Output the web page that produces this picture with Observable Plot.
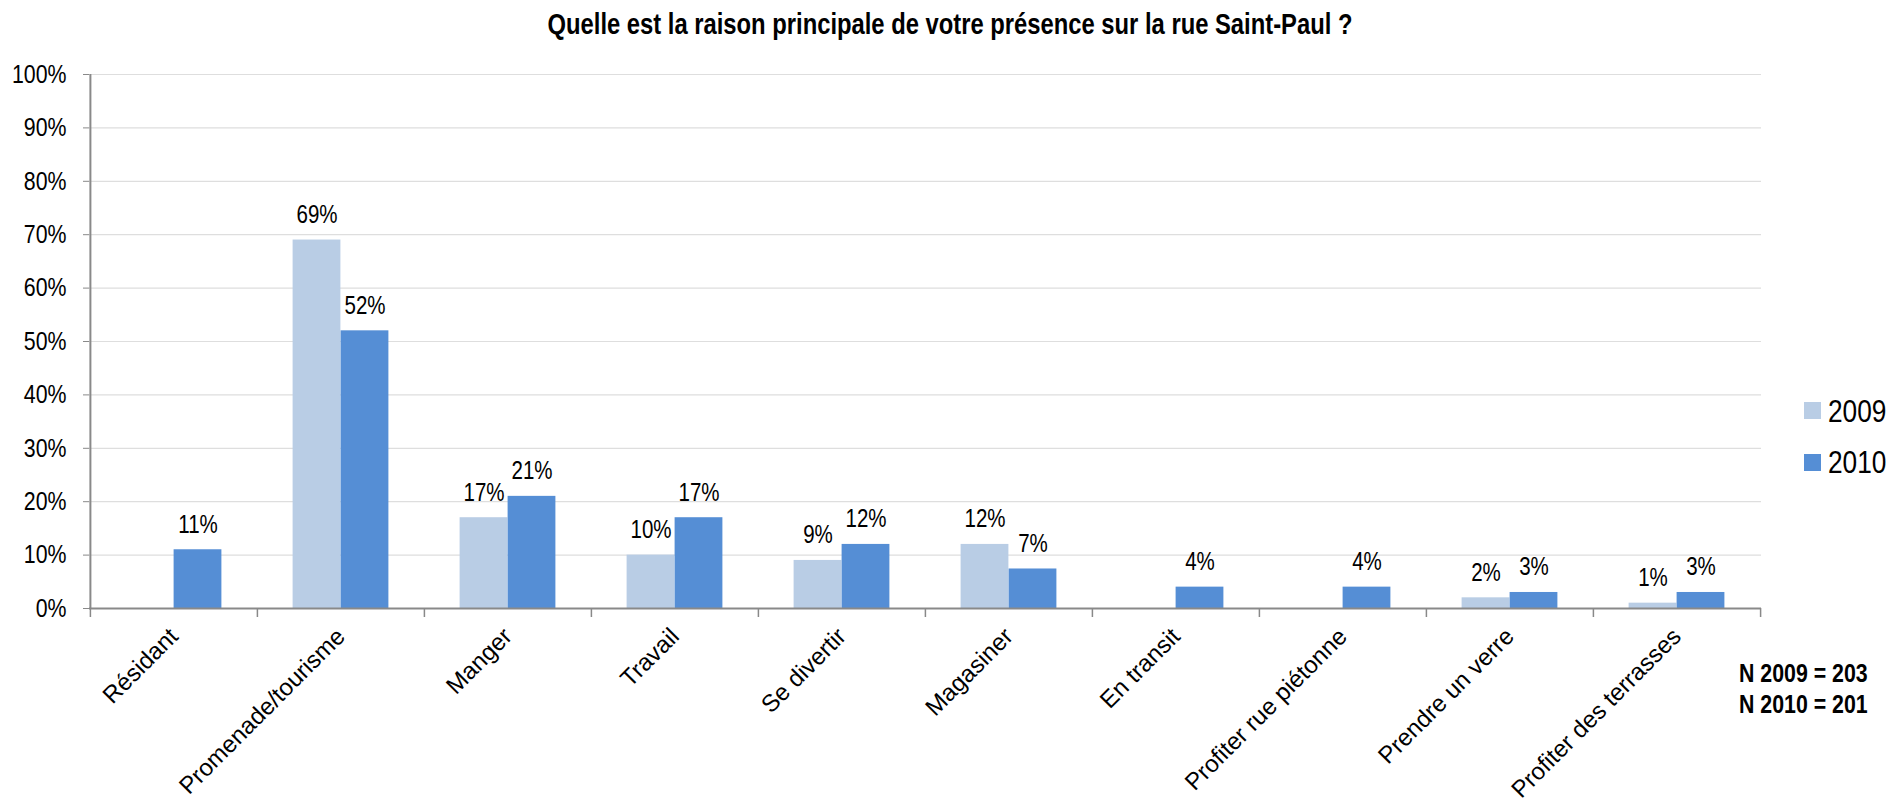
<!DOCTYPE html>
<html>
<head>
<meta charset="utf-8">
<script src="https://cdn.jsdelivr.net/npm/d3@7"></script>
<script src="https://cdn.jsdelivr.net/npm/@observablehq/plot@0.6"></script>
<style>
  body { margin: 0; background: #fff; }
  #wrap { position: relative; width: 1890px; height: 804px; overflow: hidden; background: #fff;
          font-family: "Liberation Sans", Arial, sans-serif; color: #000; }
  #title { position: absolute; left: 0; width: 1900px; top: 10px; text-align: center;
           font-weight: bold; font-size: 29px; line-height: 29px; white-space: nowrap;
           transform: scaleX(0.82); transform-origin: 950px 0; }
  #chart { position: absolute; left: 0; top: 0; }
  .leg { position: absolute; font-size: 32px; line-height: 32px; white-space: nowrap;
         transform: scaleX(0.82); transform-origin: 0 0; }
  .sw { position: absolute; width: 17px; height: 17px; }
  #note { position: absolute; left: 1739px; top: 658px; font-weight: bold; font-size: 26px; line-height: 31px;
          white-space: nowrap; transform: scaleX(0.82); transform-origin: 0 0; }
</style>
</head>
<body>
<div id="wrap">
  <div id="chart"></div>
  <div id="title"></div>
</div>
<script>
// ---- data ----
const titleText = "Quelle est la raison principale de votre présence sur la rue Saint-Paul ?";
const categories = ["Résidant", "Promenade/tourisme", "Manger", "Travail", "Se divertir",
                    "Magasiner", "En transit", "Profiter rue piétonne", "Prendre un verre", "Profiter des terrasses"];
const years = ["2009", "2010"];
const values2009 = [null, 69, 17, 10, 9, 12, null, null, 2, 1];
const values2010 = [11, 52, 21, 17, 12, 7.4, 4, 4, 3, 3];
const yTicks = [0, 10, 20, 30, 40, 50, 60, 70, 80, 90, 100];
const sampleSizes = [203, 201];
const colors = ["#b9cde5", "#558ed5"];

// ---- layout ----
const W = 1890, H = 804;
const mt = 74, mb = 196, ml = 89, mr = 129;
const bw = (W - ml - mr) / categories.length;
const barW = 48;
const axisColor = "#898989";
const narrowScale = 0.82;

const series = [values2009, values2010];
const data = categories.flatMap((c, i) => years.map((y, j) => ({cat: c, year: y, v: series[j][i]})))
                       .filter(d => d.v != null);
const d09 = data.filter(d => d.year === years[0]);
const d10 = data.filter(d => d.year === years[1]);
const fmt = d => Math.round(d.v) + "%";

const plot = Plot.plot({
  width: W, height: H,
  marginTop: mt, marginBottom: mb, marginLeft: ml, marginRight: mr,
  style: {fontFamily: '"Liberation Sans", Arial, sans-serif', fontSize: "26px", background: "transparent", color: "#000", overflow: "visible"},
  x: {domain: categories, padding: 0, tickRotate: -45, tickSize: 0, tickPadding: 24, label: null},
  y: {domain: [0, 100], ticks: yTicks, tickFormat: d => d + "%", tickSize: 6, tickPadding: 17, label: null},
  marks: [
    Plot.ruleY(yTicks.filter(t => t > 0), {stroke: "#dedede", strokeWidth: 1.2}),
    Plot.barY(d09, {x: "cat", y: "v", fill: colors[0], insetLeft: bw / 2 - barW, insetRight: bw / 2}),
    Plot.barY(d10, {x: "cat", y: "v", fill: colors[1], insetLeft: bw / 2, insetRight: bw / 2 - barW}),
    Plot.text(d09, {x: "cat", y: "v", text: fmt, dx: -barW / 2, dy: -17, lineAnchor: "bottom", fontSize: 25, fill: "#000", className: "narrow"}),
    Plot.text(d10, {x: "cat", y: "v", text: fmt, dx: barW / 2, dy: -17, lineAnchor: "bottom", fontSize: 25, fill: "#000", className: "narrow"}),
    Plot.ruleY([0], {stroke: axisColor, strokeWidth: 2}),
    Plot.ruleX([categories[0]], {dx: -bw / 2, stroke: axisColor, strokeWidth: 2}),
    Plot.ruleX(categories, {dx: -bw / 2, insetTop: H - mt - mb, insetBottom: -9, stroke: axisColor, strokeWidth: 1.5}),
    Plot.ruleX([categories[categories.length - 1]], {dx: bw / 2, insetTop: H - mt - mb, insetBottom: -9, stroke: axisColor, strokeWidth: 1.5})
  ]
});

const svg = d3.select(plot);
svg.selectAll('g[aria-label="y-axis tick"]').attr("stroke", axisColor).selectAll("path").attr("stroke", axisColor);
svg.selectAll('g[aria-label="x-axis tick label"]').attr("font-size", 24);
document.getElementById("chart").appendChild(plot);

// condense numeric labels (Arial Narrow look) through textLength
function condense(sel) {
  sel.each(function () {
    const len = this.getComputedTextLength();
    if (len > 0) {
      this.setAttribute("textLength", (len * narrowScale).toFixed(2));
      this.setAttribute("lengthAdjust", "spacingAndGlyphs");
    }
  });
}
condense(svg.selectAll('g[aria-label="y-axis tick label"] text'));
condense(svg.selectAll('g.narrow text, text.narrow'));

document.getElementById("title").textContent = titleText;

// legend
const wrap = document.getElementById("wrap");
years.forEach((y, j) => {
  const sw = document.createElement("div");
  sw.className = "sw";
  sw.style.left = "1804px"; sw.style.top = (402 + j * 52) + "px"; sw.style.background = colors[j];
  wrap.appendChild(sw);
  const t = document.createElement("div");
  t.className = "leg";
  t.style.left = "1828px"; t.style.top = (395 + j * 51) + "px";
  t.textContent = y;
  wrap.appendChild(t);
});

// sample size note
const note = document.createElement("div");
note.id = "note";
note.innerHTML = years.map((y, j) => `N ${y} = ${sampleSizes[j]}`).join("<br>");
wrap.appendChild(note);
</script>
</body>
</html>
